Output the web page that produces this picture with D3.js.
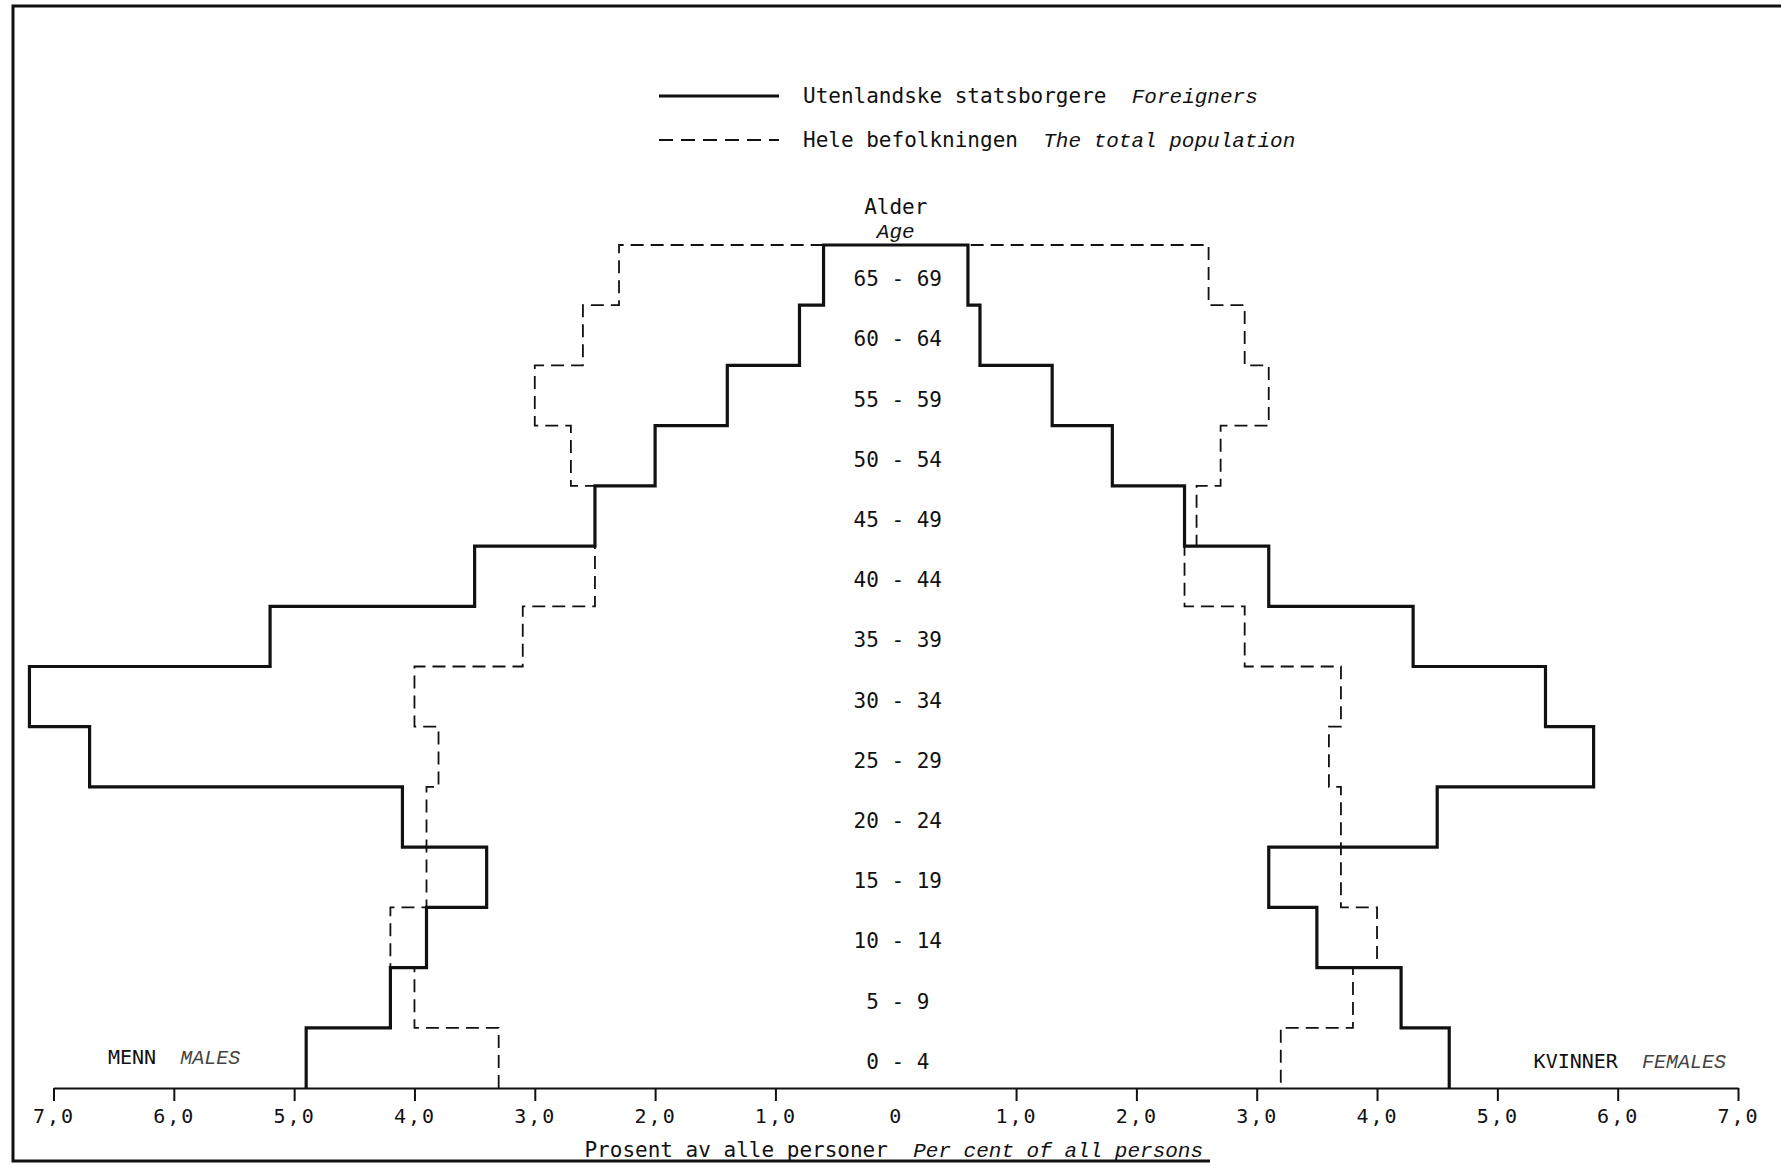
<!DOCTYPE html>
<html>
<head>
<meta charset="utf-8">
<script src="https://cdn.jsdelivr.net/npm/d3@7"></script>
<style>
  html, body { margin: 0; padding: 0; background: #fff; }
  svg text { font-family: "DejaVu Sans Mono", "Liberation Mono", monospace; fill: #111; white-space: pre; }
  .it { font-family: "Liberation Mono", "DejaVu Sans Mono", monospace; font-style: italic; }
</style>
</head>
<body>
<div id="chart"></div>
<script>
// Age groups, youngest first
const ageGroups = ["0 - 4", "5 - 9", "10 - 14", "15 - 19", "20 - 24", "25 - 29", "30 - 34",
                   "35 - 39", "40 - 44", "45 - 49", "50 - 54", "55 - 59", "60 - 64", "65 - 69"];

// Per cent of all persons
const maleForeign   = [4.9, 4.2, 3.9, 3.4, 4.1, 6.7, 7.2, 5.2, 3.5, 2.5, 2.0, 1.4, 0.8, 0.6];
const maleTotal     = [3.3, 4.0, 4.2, 3.9, 3.9, 3.8, 4.0, 3.1, 2.5, 2.5, 2.7, 3.0, 2.6, 2.3];
const femaleForeign = [4.6, 4.2, 3.5, 3.1, 4.5, 5.8, 5.4, 4.3, 3.1, 2.4, 1.8, 1.3, 0.7, 0.6];
const femaleTotal   = [3.2, 3.8, 4.0, 3.7, 3.7, 3.6, 3.7, 2.9, 2.4, 2.5, 2.7, 3.1, 2.9, 2.6];

const xTicks = [-7, -6, -5, -4, -3, -2, -1, 0, 1, 2, 3, 4, 5, 6, 7];

const width = 1781;
const height = 1166;

const svg = d3.select('#chart').append('svg')
    .attr('width', width)
    .attr('height', height);

// scales: x is per cent (males negative), y is the age-group edge index
const x = d3.scaleLinear().domain([-7, 7]).range([53.5, 1738]);
const y = d3.scaleLinear().domain([0, ageGroups.length]).range([1088, 245]);

// frame round the figure
svg.append('path')
    .attr('d', `M${width},6 L13,6 L13,1161 L1210,1161`)
    .attr('fill', 'none')
    .attr('stroke', '#111')
    .attr('stroke-width', 3);

// step outline: up the male side, across the top, down the female side
function outline(male, female) {
    const pts = [];
    const n = ageGroups.length;
    for (let i = 0; i < n; i++) {
        pts.push([-male[i], i]);
        pts.push([-male[i], i + 1]);
    }
    for (let i = n - 1; i >= 0; i--) {
        pts.push([female[i], i + 1]);
        pts.push([female[i], i]);
    }
    return d3.line().x(d => x(d[0])).y(d => y(d[1]))(pts);
}

svg.append('path')
    .attr('d', outline(maleTotal, femaleTotal))
    .attr('fill', 'none')
    .attr('stroke', '#111')
    .attr('stroke-width', 1.8)
    .attr('stroke-dasharray', '13,7');

svg.append('path')
    .attr('d', outline(maleForeign, femaleForeign))
    .attr('fill', 'none')
    .attr('stroke', '#111')
    .attr('stroke-width', 3.2);

// x axis
const axis = d3.axisBottom(x)
    .tickValues(xTicks)
    .tickSize(13)
    .tickSizeOuter(0)
    .tickPadding(8)
    .tickFormat(d => d === 0 ? '0' : Math.abs(d).toFixed(1).replace('.', ','));

const gx = svg.append('g')
    .attr('transform', `translate(0,${y(0)})`)
    .call(axis);
gx.select('.domain').attr('stroke', '#111').attr('stroke-width', 2);
gx.selectAll('.tick line').attr('stroke', '#111').attr('stroke-width', 2)
    .filter(d => d === 0).remove();
gx.selectAll('.tick text')
    .attr('font-size', 20)
    .attr('letter-spacing', 2)
    .attr('font-family', '"DejaVu Sans Mono", monospace')
    .attr('fill', '#111');

// age labels
svg.append('g').selectAll('text')
    .data(ageGroups)
    .enter()
    .append('text')
    .attr('x', x(0) + 2)
    .attr('y', (d, i) => (y(i) + y(i + 1)) / 2 + 5)
    .attr('text-anchor', 'middle')
    .attr('dominant-baseline', 'middle')
    .attr('font-size', 21)
    .text(d => d);

// titles
svg.append('text').attr('x', x(0)).attr('y', 214)
    .attr('text-anchor', 'middle').attr('font-size', 21).text('Alder');
svg.append('text').attr('class', 'it').attr('x', x(0)).attr('y', 238)
    .attr('text-anchor', 'middle').attr('font-size', 21).text('Age');

const xt = svg.append('text').attr('x', x(0) - 2).attr('y', 1157)
    .attr('text-anchor', 'middle').attr('font-size', 21);
xt.append('tspan').text('Prosent av alle personer  ');
xt.append('tspan').attr('class', 'it').text('Per cent of all persons');

const men = svg.append('text').attr('x', 108).attr('y', 1064).attr('font-size', 20);
men.append('tspan').text('MENN  ');
men.append('tspan').attr('class', 'it').attr('fill', '#444').text('MALES');

const women = svg.append('text').attr('x', 1726).attr('y', 1068)
    .attr('text-anchor', 'end').attr('font-size', 20);
women.append('tspan').text('KVINNER  ');
women.append('tspan').attr('class', 'it').attr('fill', '#444').text('FEMALES');

// legend
const legend = [
    { label: 'Utenlandske statsborgere', en: 'Foreigners', dash: null, w: 3.2 },
    { label: 'Hele befolkningen', en: 'The total population', dash: '14,8', w: 1.8 }
];
const lg = svg.append('g').selectAll('g')
    .data(legend)
    .enter()
    .append('g')
    .attr('transform', (d, i) => `translate(0,${96 + i * 44})`);
lg.append('line')
    .attr('x1', 659).attr('x2', 779)
    .attr('stroke', '#111')
    .attr('stroke-width', d => d.w)
    .attr('stroke-dasharray', d => d.dash);
const lt = lg.append('text').attr('x', 803).attr('y', 7).attr('font-size', 21);
lt.append('tspan').text(d => d.label + '  ');
lt.append('tspan').attr('class', 'it').text(d => d.en);
</script>
</body>
</html>
